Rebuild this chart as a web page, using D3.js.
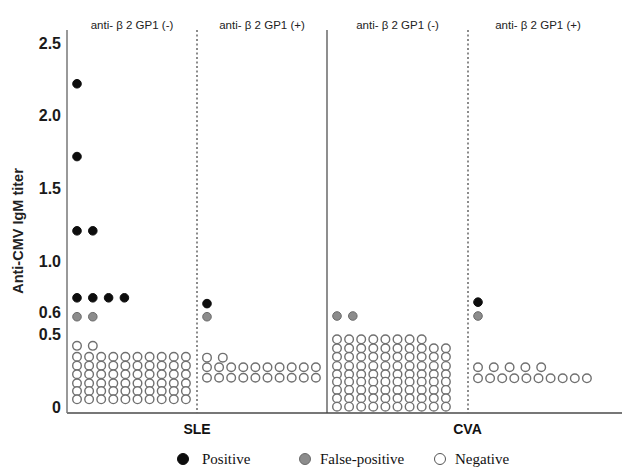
<!DOCTYPE html>
<html>
<head>
<meta charset="utf-8">
<script src="https://cdn.jsdelivr.net/npm/d3@7"></script>
<style>
  body { margin: 0; background: #fff; }
  svg { display: block; font-family: "Liberation Sans", Arial, sans-serif; }
</style>
</head>
<body>
<div id="chart"></div>
<script>
// panels: SLE anti-b2GP1 (-), SLE (+), CVA (-), CVA (+)
var panelLabels = ["anti- β 2 GP1 (-)", "anti- β 2 GP1 (+)", "anti- β 2 GP1 (-)", "anti- β 2 GP1 (+)"];
var groups = ["SLE", "CVA"];
var yTicks = [0, 0.5, 0.6, 1.0, 1.5, 2.0, 2.5];
var legendItems = ["Positive", "False-positive", "Negative"];

// each row: panel index, titer value, number of cases in that row
var positiveRows = [
  { panel: 0, value: 2.22, count: 1 },
  { panel: 0, value: 1.72, count: 1 },
  { panel: 0, value: 1.21, count: 2 },
  { panel: 0, value: 0.75, count: 4 },
  { panel: 1, value: 0.71, count: 1 },
  { panel: 3, value: 0.72, count: 1 }
];
var falsePositiveRows = [
  { panel: 0, value: 0.62, count: 2 },
  { panel: 1, value: 0.62, count: 1 },
  { panel: 2, value: 0.625, count: 2 },
  { panel: 3, value: 0.625, count: 1 }
];
var negativeRows = [
  { panel: 0, value: 0.42, count: 2 },
  { panel: 0, value: 0.345, count: 10 },
  { panel: 0, value: 0.284, count: 10 },
  { panel: 0, value: 0.225, count: 10 },
  { panel: 0, value: 0.163, count: 10 },
  { panel: 0, value: 0.11, count: 10 },
  { panel: 0, value: 0.053, count: 10 },
  { panel: 1, value: 0.339, count: 2 },
  { panel: 1, value: 0.273, count: 10 },
  { panel: 1, value: 0.201, count: 10 },
  { panel: 2, value: 0.465, count: 8 },
  { panel: 2, value: 0.403, count: 10 },
  { panel: 2, value: 0.345, count: 10 },
  { panel: 2, value: 0.282, count: 10 },
  { panel: 2, value: 0.225, count: 10 },
  { panel: 2, value: 0.174, count: 10 },
  { panel: 2, value: 0.117, count: 10 },
  { panel: 2, value: 0.06, count: 10 },
  { panel: 2, value: 0.002, count: 10 },
  { panel: 3, value: 0.273, count: 5 },
  { panel: 3, value: 0.197, count: 10 }
];

var width = 626, height = 467;
var plotTop = 30, plotBottom = 413, plotRight = 622;

var svg = d3.select("#chart").append("svg")
  .attr("width", width)
  .attr("height", height);

// panel edges (piecewise)
var xPanel = d3.scaleLinear().domain([0, 1, 2, 3, 4]).range([67, 197, 327, 468, 608]);
var y = d3.scaleLinear().domain([0, 2.5]).range([407, 43]);

// y axis
var yAxis = svg.append("g")
  .attr("transform", "translate(" + xPanel(0) + ",0)")
  .call(d3.axisLeft(y)
    .tickValues(yTicks)
    .tickSize(0)
    .tickPadding(6)
    .tickFormat(function(d) { return d === 0 ? "0" : d3.format(".1f")(d); }));
yAxis.select(".domain").remove();
yAxis.selectAll("text")
  .attr("fill", "#1a1a1a")
  .style("font-size", "16px")
  .style("font-weight", "bold")
  .attr("dy", function(d) { return d === 0.6 ? "-0.12em" : "0.32em"; });

svg.append("line")
  .attr("x1", xPanel(0)).attr("x2", xPanel(0))
  .attr("y1", plotTop).attr("y2", plotBottom)
  .attr("stroke", "#777").attr("stroke-width", 1.5);

svg.append("line")
  .attr("x1", xPanel(0)).attr("x2", plotRight)
  .attr("y1", plotBottom).attr("y2", plotBottom)
  .attr("stroke", "#777").attr("stroke-width", 1.8);

// dividers
[1, 2, 3].forEach(function(i) {
  svg.append("line")
    .attr("x1", xPanel(i)).attr("x2", xPanel(i))
    .attr("y1", plotTop).attr("y2", plotBottom)
    .attr("stroke", i === 2 ? "#444" : "#666")
    .attr("stroke-width", i === 2 ? 1.2 : 1.5)
    .attr("stroke-dasharray", i === 2 ? null : "2,2.5");
});

// panel headers
svg.selectAll(".hdr").data(panelLabels).enter().append("text")
  .attr("class", "hdr")
  .attr("x", function(d, i) { return (xPanel(i) + xPanel(i + 1)) / 2; })
  .attr("y", 29)
  .attr("text-anchor", "middle")
  .attr("fill", "#222")
  .style("font-size", "11.5px")
  .text(function(d) { return d; });

// group labels
svg.selectAll(".grp").data(groups).enter().append("text")
  .attr("class", "grp")
  .attr("x", function(d, i) { return (xPanel(i * 2) + xPanel(i * 2 + 2)) / 2; })
  .attr("y", 434)
  .attr("text-anchor", "middle")
  .attr("fill", "#111")
  .style("font-size", "14px")
  .style("font-weight", "bold")
  .text(function(d) { return d; });

// y title
svg.append("text")
  .attr("transform", "translate(23,231) rotate(-90)")
  .attr("text-anchor", "middle")
  .attr("fill", "#222")
  .style("font-size", "14.5px")
  .style("font-weight", "bold")
  .text("Anti-CMV IgM titer");

// expand rows into dots
function expand(rows) {
  var out = [];
  rows.forEach(function(r) {
    var step = r.count > 5 ? 12.1 : 15.8;
    for (var k = 0; k < r.count; k++) {
      out.push({ x: xPanel(r.panel) + 10 + k * step, y: y(r.value) });
    }
  });
  return out;
}

var styles = [
  { rows: negativeRows, fill: "#fff", stroke: "#707070", r: 4.3, sw: 1.4 },
  { rows: falsePositiveRows, fill: "#8c8c8c", stroke: "#6a6a6a", r: 4.3, sw: 1 },
  { rows: positiveRows, fill: "#0d0d0d", stroke: "#0d0d0d", r: 4.3, sw: 1 }
];

styles.forEach(function(s) {
  svg.append("g").selectAll("circle").data(expand(s.rows)).enter().append("circle")
    .attr("cx", function(d) { return d.x; })
    .attr("cy", function(d) { return d.y; })
    .attr("r", s.r)
    .attr("fill", s.fill)
    .attr("stroke", s.stroke)
    .attr("stroke-width", s.sw);
});

// legend
var legendX = [183, 305, 440];
var legendStyle = [
  { fill: "#0d0d0d", stroke: "#0d0d0d" },
  { fill: "#8c8c8c", stroke: "#6a6a6a" },
  { fill: "#fff", stroke: "#555" }
];
var lg = svg.selectAll(".lg").data(legendItems).enter().append("g")
  .attr("class", "lg")
  .attr("transform", function(d, i) { return "translate(" + legendX[i] + ",459)"; });
lg.append("circle")
  .attr("r", 5.5)
  .attr("fill", function(d, i) { return legendStyle[i].fill; })
  .attr("stroke", function(d, i) { return legendStyle[i].stroke; })
  .attr("stroke-width", 1);
lg.append("text")
  .attr("x", function(d, i) { return i === 0 ? 19 : 15; })
  .attr("y", 5)
  .attr("fill", "#111")
  .style("font-family", "'Liberation Serif', 'Times New Roman', serif")
  .style("font-size", "15px")
  .text(function(d) { return d; });
</script>
</body>
</html>
